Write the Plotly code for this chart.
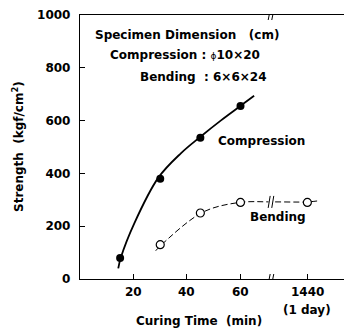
import plotly.graph_objects as go

# ---- data ----
comp_time = [15, 30, 45, 60]
comp_strength = [80, 380, 535, 655]
bend_time = [30, 45, 60, 1440]
bend_strength = [130, 250, 290, 290]

# fitted curves (axis position, strength)
comp_curve_x = [14.3, 15.3, 20.3, 29.3, 37.7, 44.8, 52.6, 59.9, 65.1]
comp_curve_y = [40, 82, 211, 384, 476, 537, 600, 655, 694]
bend_curve_x = [28.3, 30.6, 45.9, 59.7, 72, 85, 89]
bend_curve_y = [107, 131, 253, 290, 292, 292, 296]

x_tickvals_min = [20, 40, 60, 1440]
x_ticktext = ["20", "40", "60", "1440"]
x_subtext = ["", "", "", "(1 day)"]
y_tickvals = [0, 200, 400, 600, 800, 1000]

# ---- broken time axis: 1440 min drawn after the break ----
BREAK_POS = 71.4
DAY_POS = 85.0


def axis_pos(t):
    return t if t < BREAK_POS else DAY_POS + (t - 1440)


FONT = "DejaVu Sans"
W, H = 344, 330
ML, MR, MT, MB = 80, 0, 15, 51
XR = [0, 98.7]
YR = [0, 1000]
PW, PH = W - ML - MR, H - MT - MB
PX_X = (XR[1] - XR[0]) / PW
PX_Y = (YR[1] - YR[0]) / PH

fig = go.Figure()

fig.add_trace(go.Scatter(x=comp_curve_x, y=comp_curve_y, mode="lines",
                         line=dict(color="black", width=1.8, shape="spline"),
                         hoverinfo="skip", showlegend=False))
fig.add_trace(go.Scatter(x=bend_curve_x, y=bend_curve_y, mode="lines",
                         line=dict(color="black", width=1, shape="spline", dash="6px,3px"),
                         hoverinfo="skip", showlegend=False))
fig.add_trace(go.Scatter(x=[axis_pos(t) for t in comp_time], y=comp_strength, mode="markers",
                         marker=dict(color="black", size=8, symbol="circle"),
                         name="Compression", showlegend=False))
fig.add_trace(go.Scatter(x=[axis_pos(t) for t in bend_time], y=bend_strength, mode="markers",
                         marker=dict(color="white", size=8, symbol="circle",
                                     line=dict(color="black", width=1.2)),
                         name="Bending", showlegend=False))


# break marks (white gap + two slanted strokes) on top axis, bottom axis and bending curve
def break_mark(yc, half_h_px=5):
    shapes = [dict(type="rect", xref="x", yref="y",
                   x0=BREAK_POS - 2.5 * PX_X, x1=BREAK_POS + 2.5 * PX_X,
                   y0=yc - 1.5 * PX_Y, y1=yc + 1.5 * PX_Y,
                   fillcolor="white", line=dict(width=0), layer="above")]
    for dx in (-1.8, 1.8):
        shapes.append(dict(type="line", xref="x", yref="y",
                           x0=BREAK_POS + (dx - 1) * PX_X, x1=BREAK_POS + (dx + 1) * PX_X,
                           y0=yc - half_h_px * PX_Y, y1=yc + half_h_px * PX_Y,
                           line=dict(color="black", width=1), layer="above"))
    return shapes


shapes = []
shapes += break_mark(YR[1])
shapes += break_mark(YR[0])
shapes += break_mark(bend_curve_y[4], 6)

ann_font = dict(family=FONT, size=12, color="black", weight="bold")
annotations = [
    dict(x=4.9, y=924, text="Specimen Dimension &nbsp; (cm)", xanchor="left", yanchor="middle"),
    dict(x=10.5, y=848,
         text="Compression : <span style='font-size:9px;font-weight:normal'>ϕ</span>10×20",
         xanchor="left", yanchor="middle"),
    dict(x=21.7, y=765, text="Bending &nbsp;: 6×6×24", xanchor="left", yanchor="middle"),
    dict(x=50.8, y=523, text="Compression", xanchor="left", yanchor="middle"),
    dict(x=62.8, y=235, text="Bending", xanchor="left", yanchor="middle"),
]
for a in annotations:
    a.update(xref="x", yref="y", showarrow=False, font=ann_font)

# x tick labels drawn as annotations below the axis
for t, lab, sub in zip(x_tickvals_min, x_ticktext, x_subtext):
    annotations.append(dict(xref="x", yref="paper", x=axis_pos(t), y=-13 / PH, text=lab,
                            showarrow=False, xanchor="center", yanchor="middle", font=ann_font))
    if sub:
        annotations.append(dict(xref="x", yref="paper", x=axis_pos(t), y=-31 / PH, text=sub,
                                showarrow=False, xanchor="center", yanchor="middle",
                                font=ann_font))

annotations.append(dict(xref="paper", yref="paper", x=(199 - ML) / PW,
                        y=(H - MB - 321) / PH,
                        text="Curing Time  (min)", showarrow=False,
                        xanchor="center", yanchor="middle", font=ann_font))
annotations.append(dict(xref="paper", yref="paper", x=(18 - ML) / PW,
                        y=(H - MB - 147) / PH,
                        text="Strength  (kgf/cm<sup>2</sup>)", showarrow=False, textangle=-90,
                        xanchor="center", yanchor="middle", font=ann_font))

fig.update_layout(
    width=W, height=H,
    margin=dict(l=ML, r=MR, t=MT, b=MB, pad=0),
    plot_bgcolor="white", paper_bgcolor="white",
    font=dict(family=FONT, size=12, color="black", weight="bold"),
    shapes=shapes, annotations=annotations,
    xaxis=dict(range=XR, showgrid=False, zeroline=False, showline=True, mirror=True,
               linecolor="black", linewidth=1.3, ticks="inside", ticklen=5, tickwidth=1,
               tickcolor="black", automargin=False,
               tickvals=[axis_pos(t) for t in x_tickvals_min], showticklabels=False,
               fixedrange=True),
    yaxis=dict(range=YR, showgrid=False, zeroline=False, showline=True,
               linecolor="black", linewidth=1.3, ticks="inside", ticklen=5, tickwidth=1,
               tickcolor="black", tickvals=y_tickvals, ticklabelstandoff=6,
               automargin=False, fixedrange=True),
)

fig.write_html("out.html", config={"displayModeBar": False},
               post_script="document.body.style.margin='0';document.body.style.overflow='hidden';")
